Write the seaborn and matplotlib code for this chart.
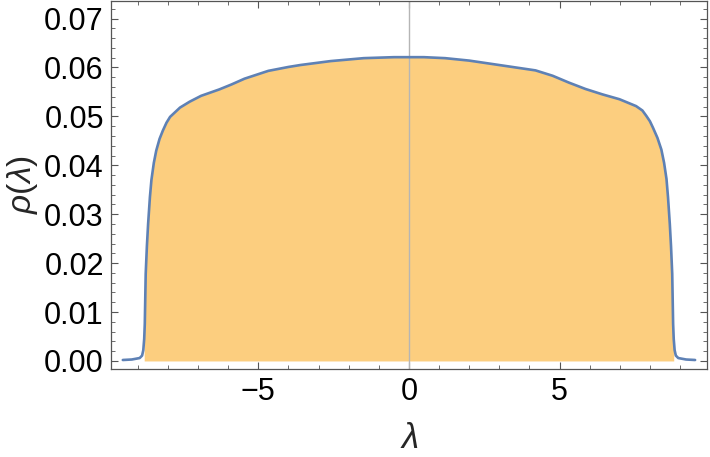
import numpy as np
import pandas as pd
import seaborn as sns
import matplotlib.pyplot as plt
from matplotlib.ticker import MultipleLocator

# density curve
lam = [-9.5, -9.2, -8.94, -8.86, -8.82, -8.79, -8.77, -8.74, -8.70, -8.66,
       -8.60, -8.55, -8.47, -8.39, -8.28, -8.17, -8.05, -7.93, -7.6, -7.28,
       -6.9, -6.3, -5.9, -5.46, -4.67, -4.0, -3.6, -2.6, -1.5, -0.5,
       0.0, 0.5, 1.2, 2.0, 3.1, 4.2, 4.77, 5.31, 5.86, 6.42,
       6.99, 7.54, 7.75, 7.88, 8.0, 8.1, 8.25, 8.38, 8.47, 8.55,
       8.60, 8.66, 8.70, 8.74, 8.77, 8.79, 8.82, 8.86, 8.94, 9.2,
       9.5]
rho = [0.0002, 0.0003, 0.0006, 0.0011, 0.0022, 0.0045, 0.0076, 0.0178, 0.0235, 0.0280,
       0.0335, 0.0370, 0.0405, 0.0430, 0.0454, 0.0471, 0.0487, 0.0499, 0.0518, 0.0530,
       0.0542, 0.0555, 0.0565, 0.0577, 0.0593, 0.0601, 0.0605, 0.0613, 0.0619, 0.0621,
       0.0621, 0.0621, 0.0619, 0.0614, 0.0604, 0.0594, 0.0583, 0.0569, 0.0556, 0.0545,
       0.0535, 0.0521, 0.0512, 0.0501, 0.0490, 0.0477, 0.0456, 0.0432, 0.0405, 0.0372,
       0.0335, 0.0280, 0.0235, 0.0178, 0.0076, 0.0045, 0.0022, 0.0011, 0.0006, 0.0003,
       0.0002]

# histogram support (eigenvalue samples only fall inside this range)
hist_lo, hist_hi = -8.8, 8.8

x_ticks = [-5, 0, 5]
y_ticks = [0.00, 0.01, 0.02, 0.03, 0.04, 0.05, 0.06, 0.07]

df = pd.DataFrame({'lam': lam, 'rho': rho})

sns.set_style('ticks')
plt.rcParams['font.family'] = ['Liberation Sans', 'DejaVu Sans']
plt.rcParams['mathtext.fontset'] = 'custom'
plt.rcParams['mathtext.it'] = 'Liberation Sans:italic'
plt.rcParams['mathtext.rm'] = 'Liberation Sans'

fig = plt.figure(figsize=(7.10, 4.57), dpi=100)
ax = fig.add_axes([0.156, 0.193, 0.840, 0.805])

inside = (df['lam'] >= hist_lo) & (df['lam'] <= hist_hi)
ax.fill_between(df['lam'], 0, df['rho'], where=inside, color='#FCCE7F', lw=0, zorder=1)
sns.lineplot(data=df, x='lam', y='rho', color='#5E81B5', lw=1.9, ax=ax, zorder=3)
ax.axvline(0, color='#B5B5B5', lw=1.0, zorder=2)

ax.set_xlim(-9.9, 9.9)
ax.set_ylim(-0.0016, 0.0736)
ax.set_xticks(x_ticks)
ax.set_yticks(y_ticks)
ax.set_yticklabels([f'{v:.2f}' for v in y_ticks])
ax.xaxis.set_minor_locator(MultipleLocator(1))
ax.yaxis.set_minor_locator(MultipleLocator(0.002))
ax.tick_params(which='both', direction='in', top=True, right=True,
               color='#555555', labelsize=22, labelcolor='black')
ax.tick_params(which='major', length=5, width=0.8)
ax.tick_params(which='minor', length=2.8, width=0.6)
ax.tick_params(axis='x', pad=6)
ax.tick_params(axis='y', pad=5)
for s in ax.spines.values():
    s.set_color('#555555')
    s.set_linewidth(0.9)

ax.set_xlabel(r'$\lambda$', fontsize=25, labelpad=11)
ax.set_ylabel(r'$\rho(\lambda)$', fontsize=24, labelpad=3)

plt.savefig('out.png', dpi=100)
